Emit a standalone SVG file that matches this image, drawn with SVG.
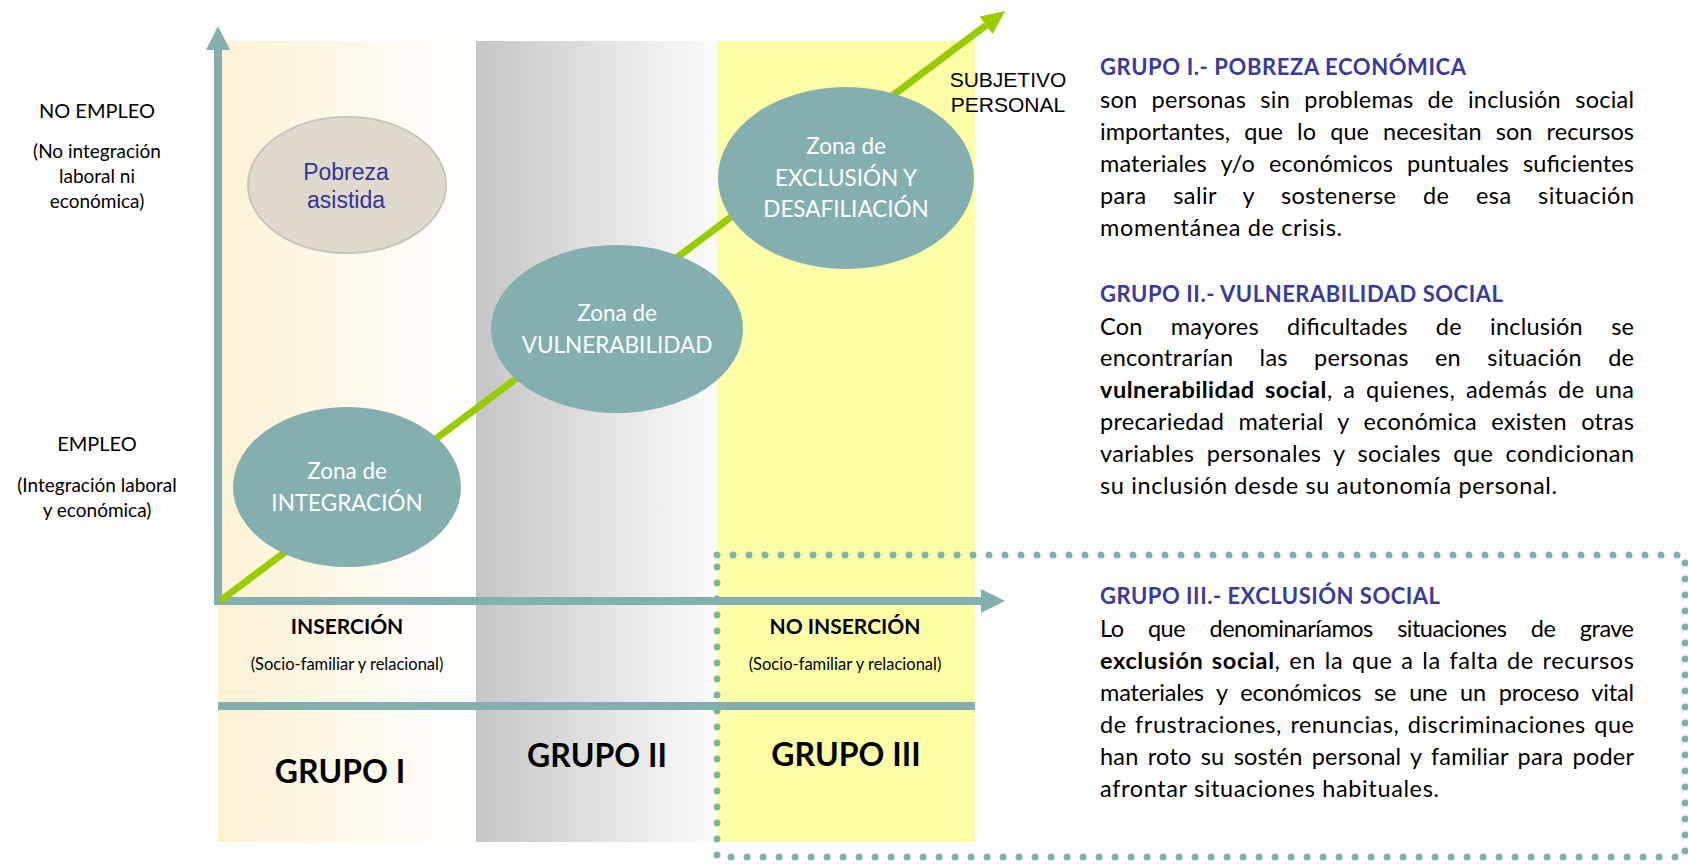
<svg xmlns="http://www.w3.org/2000/svg" width="1688" height="864" viewBox="0 0 1688 864">
<style>
.lbl{font-family:Lato,"Open Sans","Liberation Sans",sans-serif;fill:#000;text-anchor:middle}
.big{font-size:20px}
.sub{font-size:19px}
.bold{font-weight:700}
.zone{fill:#84AFAF}
.zt{font-family:Lato,"Open Sans","Liberation Sans",sans-serif;font-size:22.5px;fill:#fff;text-anchor:middle}
.head{font-family:Lato,"Open Sans","Liberation Sans",sans-serif;font-size:22px;font-weight:700;fill:#3A3A9E}
.body{font-family:Lato,"Open Sans","Liberation Sans",sans-serif;font-size:23.5px;fill:#000}
.axis{stroke:#84AFAF;stroke-width:8;fill:none}
</style>
<defs>
<linearGradient id="g1" x1="0" y1="0" x2="1" y2="0">
<stop offset="0" stop-color="#FCF2D4"/>
<stop offset="1" stop-color="#FFFFFF"/>
</linearGradient>
<linearGradient id="g2" x1="0" y1="0" x2="1" y2="0">
<stop offset="0" stop-color="#C6C6C6"/>
<stop offset="1" stop-color="#FCFCFC"/>
</linearGradient>
<marker id="tealHead" markerUnits="userSpaceOnUse" viewBox="0 0 24 24" markerWidth="24" markerHeight="24" refX="0" refY="12" orient="auto">
<path d="M0,0 L24,12 L0,24 Z" fill="#84AFAF"/>
</marker>
<marker id="greenHead" markerUnits="userSpaceOnUse" viewBox="0 0 24 22" markerWidth="24" markerHeight="22" refX="0" refY="11" orient="auto">
<path d="M0,0 L24,11 L0,22 Z" fill="#99CC00"/>
</marker>
</defs>

<g id="columns">
<rect x="218" y="41" width="258" height="801" fill="url(#g1)"/>
<rect x="476" y="41" width="241" height="801" fill="url(#g2)"/>
<rect x="717" y="41" width="258" height="801" fill="#FFFFA8"/>
</g>

<g id="separator">
<line x1="218" y1="706" x2="975" y2="706" class="axis"/>
</g>

<g id="connectors">
<line id="axis-y" x1="218" y1="605" x2="218" y2="50" class="axis" marker-end="url(#tealHead)"/>
<line id="axis-x" x1="214" y1="601" x2="981" y2="601" class="axis" marker-end="url(#tealHead)"/>
<line id="trend" x1="220" y1="601" x2="986" y2="25.4" stroke="#99CC00" stroke-width="7" marker-end="url(#greenHead)"/>
</g>

<g id="node-pobreza">
<ellipse cx="347" cy="185" rx="99" ry="68" fill="#DFDACB" stroke="#C8C5BC" stroke-width="2"/>
<text x="346" y="180" font-family="'Liberation Sans',Arial,sans-serif" font-size="23" fill="#3333A0" text-anchor="middle">Pobreza</text>
<text x="346" y="208" font-family="'Liberation Sans',Arial,sans-serif" font-size="23" fill="#3333A0" text-anchor="middle">asistida</text>
</g>

<g id="node-integracion">
<ellipse class="zone" cx="347" cy="487" rx="114" ry="80"/>
<text class="zt" x="347" y="479">Zona de</text>
<text class="zt" x="347" y="511">INTEGRACIÓN</text>
</g>

<g id="node-vulnerabilidad">
<ellipse class="zone" cx="617" cy="329" rx="126" ry="84"/>
<text class="zt" x="617" y="321">Zona de</text>
<text class="zt" x="617" y="353">VULNERABILIDAD</text>
</g>

<g id="node-exclusion">
<ellipse class="zone" cx="846" cy="178" rx="128" ry="91"/>
<text class="zt" x="846" y="154">Zona de</text>
<text class="zt" x="846" y="186">EXCLUSIÓN Y</text>
<text class="zt" x="846" y="217">DESAFILIACIÓN</text>
</g>

<g id="label-subjetivo">
<text x="1008" y="87" font-family="'Liberation Sans',Arial,sans-serif" font-size="21" fill="#000" text-anchor="middle">SUBJETIVO</text>
<text x="1008" y="112" font-family="'Liberation Sans',Arial,sans-serif" font-size="21" fill="#000" text-anchor="middle">PERSONAL</text>
</g>

<g id="label-no-empleo">
<text class="lbl big" x="97" y="118">NO EMPLEO</text>
<text class="lbl sub" x="97" y="158">(No integración</text>
<text class="lbl sub" x="97" y="183">laboral ni</text>
<text class="lbl sub" x="97" y="208">económica)</text>
</g>

<g id="label-empleo">
<text class="lbl big" x="97" y="451">EMPLEO</text>
<text class="lbl sub" x="97" y="492">(Integración laboral</text>
<text class="lbl sub" x="97" y="517">y económica)</text>
</g>

<g id="label-insercion">
<text class="lbl bold" x="347" y="634" font-size="21">INSERCIÓN</text>
<text class="lbl" x="347" y="670" font-size="16.5">(Socio-familiar y relacional)</text>
</g>

<g id="label-no-insercion">
<text class="lbl bold" x="845" y="634" font-size="21">NO INSERCIÓN</text>
<text class="lbl" x="845" y="670" font-size="16.5">(Socio-familiar y relacional)</text>
</g>

<g id="label-grupos">
<text class="lbl bold" x="340" y="783" font-size="32">GRUPO I</text>
<text class="lbl bold" x="597" y="767" font-size="32">GRUPO II</text>
<text class="lbl bold" x="846" y="766" font-size="32">GRUPO III</text>
</g>

<g id="text-grupo1">
<text class="head" x="1100" y="75" textLength="366" lengthAdjust="spacing">GRUPO I.- POBREZA ECONÓMICA</text>
<text class="body" x="1100" y="108" textLength="534" lengthAdjust="spacing" word-spacing="8">son personas sin problemas de inclusión social</text>
<text class="body" x="1100" y="140" textLength="534" lengthAdjust="spacing" word-spacing="8">importantes, que lo que necesitan son recursos</text>
<text class="body" x="1100" y="172" textLength="534" lengthAdjust="spacing" word-spacing="8">materiales y/o económicos puntuales suficientes</text>
<text class="body" x="1100" y="204" textLength="534" lengthAdjust="spacing" word-spacing="20">para salir y sostenerse de esa situación</text>
<text class="body" x="1100" y="236" textLength="242" lengthAdjust="spacing">momentánea de crisis.</text>
</g>

<g id="text-grupo2">
<text class="head" x="1100" y="302" textLength="403" lengthAdjust="spacing">GRUPO II.- VULNERABILIDAD SOCIAL</text>
<text class="body" x="1100" y="335" textLength="534" lengthAdjust="spacing" word-spacing="22">Con mayores dificultades de inclusión se</text>
<text class="body" x="1100" y="366" textLength="534" lengthAdjust="spacing" word-spacing="20">encontrarían las personas en situación de</text>
<text class="body" x="1100" y="398" textLength="534" lengthAdjust="spacing" word-spacing="4"><tspan font-weight="700">vulnerabilidad social</tspan>, a quienes, además de una</text>
<text class="body" x="1100" y="430" textLength="534" lengthAdjust="spacing" word-spacing="8">precariedad material y económica existen otras</text>
<text class="body" x="1100" y="462" textLength="534" lengthAdjust="spacing" word-spacing="6">variables personales y sociales que condicionan</text>
<text class="body" x="1100" y="494" textLength="457" lengthAdjust="spacing">su inclusión desde su autonomía personal.</text>
</g>

<g id="text-grupo3">
<text class="head" x="1100" y="604" textLength="340" lengthAdjust="spacing">GRUPO III.- EXCLUSIÓN SOCIAL</text>
<text class="body" x="1100" y="637" textLength="534" lengthAdjust="spacing" word-spacing="19">Lo que denominaríamos situaciones de grave</text>
<text class="body" x="1100" y="669" textLength="534" lengthAdjust="spacing" word-spacing="2"><tspan font-weight="700">exclusión social</tspan>, en la que a la falta de recursos</text>
<text class="body" x="1100" y="701" textLength="534" lengthAdjust="spacing" word-spacing="7">materiales y económicos se une un proceso vital</text>
<text class="body" x="1100" y="733" textLength="534" lengthAdjust="spacing" word-spacing="2">de frustraciones, renuncias, discriminaciones que</text>
<text class="body" x="1100" y="765" textLength="534" lengthAdjust="spacing" word-spacing="3">han roto su sostén personal y familiar para poder</text>
<text class="body" x="1100" y="797" textLength="339" lengthAdjust="spacing">afrontar situaciones habituales.</text>
</g>

<g id="dotted-frame">
<rect x="717" y="555" width="968" height="302" fill="none" stroke="#7FB1AF" stroke-width="7" stroke-linecap="round" stroke-dasharray="0 16"/>
</g>
</svg>
